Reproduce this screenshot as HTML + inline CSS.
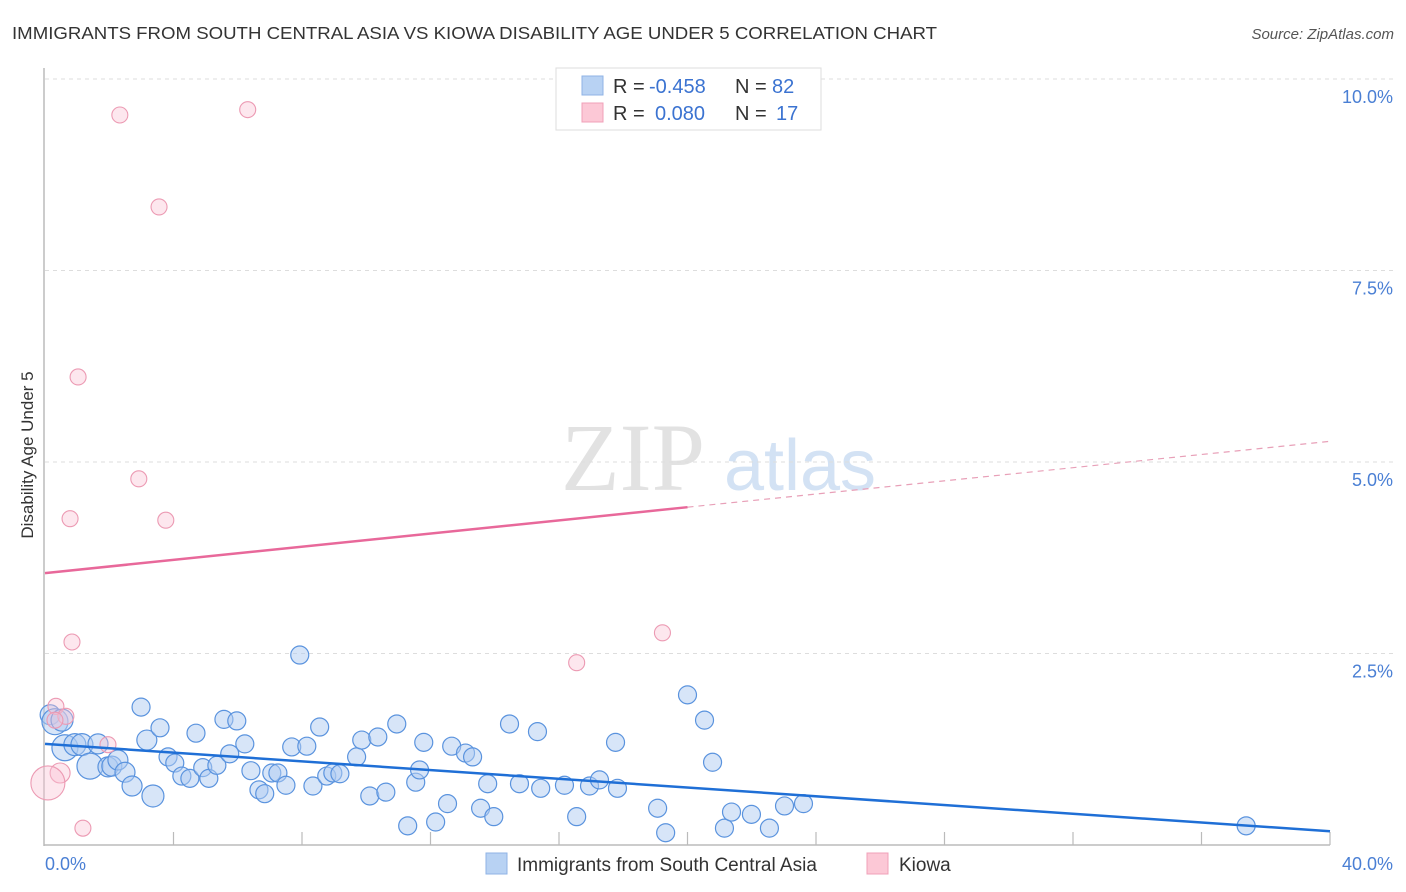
<!DOCTYPE html>
<html><head><meta charset="utf-8"><style>
body{margin:0;background:#fff;font-family:"Liberation Sans",sans-serif;}
svg{display:block}
</style></head><body>
<svg id="chart" width="1406" height="892" xmlns="http://www.w3.org/2000/svg">
<text x="12" y="39" font-size="17.5" fill="#333" textLength="925" lengthAdjust="spacingAndGlyphs">IMMIGRANTS FROM SOUTH CENTRAL ASIA VS KIOWA DISABILITY AGE UNDER 5 CORRELATION CHART</text>
<text x="1394" y="39" font-size="15" fill="#555" text-anchor="end" font-style="italic">Source: ZipAtlas.com</text>
<g>
<text x="633" y="490" font-size="96" fill="#e2e2e2" font-family="Liberation Serif,serif" text-anchor="middle">ZIP</text>
<text x="800" y="490" font-size="72" fill="#d3e2f4" text-anchor="middle">atlas</text>
</g>
<g id="grid"></g>
<g id="axes"></g>
<g id="pts"></g>
<g id="trend"></g>
<text transform="translate(33,455) rotate(-90)" font-size="17" fill="#333" text-anchor="middle">Disability Age Under 5</text>
<text x="45" y="870" font-size="18" fill="#4a7fd4">0.0%</text>
<text x="1393" y="870" font-size="18" fill="#4a7fd4" text-anchor="end">40.0%</text>
<g font-size="20">
<rect x="556" y="68" width="265" height="62" fill="#fff" stroke="#ddd"/>
<rect x="582" y="76" width="21" height="19" fill="#b8d2f3" stroke="#8fb3e6"/>
<rect x="582" y="103" width="21" height="19" fill="#fcc8d6" stroke="#f0a0b8"/>
<text x="613" y="93" fill="#333">R =</text>
<text x="649" y="93" fill="#3b73d1">-0.458</text>
<text x="735" y="93" fill="#333">N =</text>
<text x="772" y="93" fill="#3b73d1">82</text>
<text x="613" y="120" fill="#333">R =</text>
<text x="655" y="120" fill="#3b73d1">0.080</text>
<text x="735" y="120" fill="#333">N =</text>
<text x="776" y="120" fill="#3b73d1">17</text>
</g>
<g>
<rect x="486" y="853" width="21" height="21" fill="#b8d2f3" stroke="#8fb3e6"/>
<text x="517" y="871" font-size="19" fill="#333">Immigrants from South Central Asia</text>
<rect x="867" y="853" width="21" height="21" fill="#fcc8d6" stroke="#f0a0b8"/>
<text x="899" y="871" font-size="19" fill="#333">Kiowa</text>
</g>
</svg>
<script>
const yTicks=[2.5,5.0,7.5,10.0];
const yTickLabels=["2.5%","5.0%","7.5%","10.0%"];
const xTicks=[4,8,12,16,20,24,28,32,36,40];
const blueX=[0.16,0.31,0.53,0.62,0.93,1.15,1.40,1.65,1.96,2.08,2.27,2.49,2.71,2.99,3.17,3.36,3.58,3.83,4.04,4.26,4.51,4.70,4.91,5.10,5.35,5.57,5.75,5.97,6.22,6.41,6.66,6.84,7.06,7.25,7.50,7.68,7.93,8.15,8.34,8.55,8.77,8.96,9.18,9.70,9.86,10.11,10.36,10.61,10.95,11.29,11.54,11.66,11.79,12.16,12.53,12.66,13.09,13.31,13.56,13.78,13.97,14.46,14.77,15.33,15.43,16.17,16.55,16.95,17.26,17.76,17.82,19.07,19.32,20.00,20.53,20.78,21.15,21.37,21.99,22.55,23.02,23.61,37.39];
const blueY=[1.70,1.61,1.63,1.27,1.31,1.31,1.03,1.32,1.02,1.03,1.11,0.95,0.77,1.80,1.37,0.64,1.53,1.15,1.07,0.90,0.87,1.46,1.01,0.87,1.04,1.64,1.19,1.62,1.32,0.97,0.72,0.67,0.94,0.94,0.78,1.28,2.48,1.29,0.77,1.54,0.90,0.94,0.93,1.15,1.37,0.64,1.41,0.69,1.58,0.25,0.82,0.98,1.34,0.30,0.54,1.29,1.20,1.15,0.48,0.80,0.37,1.58,0.80,1.48,0.74,0.78,0.37,0.77,0.85,1.34,0.74,0.48,0.16,1.96,1.63,1.08,0.22,0.43,0.40,0.22,0.51,0.54,0.25];
const blueSize=[10,13,11,13,11,11,13,10,10,10,10,10,10,9,10,11];
const pinkX=[2.33,6.31,3.55,1.03,2.92,0.78,3.76,0.84,19.22,16.55,0.34,0.65,1.96,0.47,0.09,1.18,0.31];
const pinkY=[9.53,9.60,8.33,6.11,4.78,4.26,4.24,2.65,2.77,2.38,1.81,1.68,1.31,0.94,0.81,0.22,1.63];
const pinkSize=[8,8,8,8,8,8,8,8,8,8,8,8,8,10,17,8,8];
const blueTrend=[1.32,0.18];
const pinkTrend=[3.55,5.27];
const pinkSolidEnd=20;
const NS="http://www.w3.org/2000/svg";
const X0=45,X1=1330,Y0=845,YPX=76.6;
function sx(v){return X0+(X1-X0)*v/40;}
function sy(v){return Y0-v*YPX;}
function mk(tag,attrs,parent){const e=document.createElementNS(NS,tag);for(const k in attrs)e.setAttribute(k,attrs[k]);document.getElementById(parent).appendChild(e);return e;}
yTicks.forEach((t,i)=>{
 const l=mk('line',{x1:45,x2:1393,y1:sy(t),y2:sy(t),stroke:'#ddd','stroke-dasharray':'4,4'},'grid');
 
 
 const tx=mk('text',{x:1393,y:sy(t)+24,'font-size':18,fill:'#4a7fd4','text-anchor':'end'},'grid');
 tx.textContent=yTickLabels[i];
 
 
});
let a=mk('line',{x1:44,x2:44,y1:68,y2:846,stroke:'#bbb','stroke-width':1.5},'axes');


a=mk('line',{x1:44,x2:1330,y1:845,y2:845,stroke:'#bbb','stroke-width':1.5},'axes');


xTicks.forEach(t=>{
 const l=mk('line',{x1:sx(t),x2:sx(t),y1:832,y2:845,stroke:'#bbb','stroke-width':1.2},'axes');
 
 
});
blueX.forEach((v,i)=>{
 const c=mk('circle',{cx:sx(v),cy:sy(blueY[i]),r:blueSize[i]||9,fill:'rgba(175,204,242,0.5)',stroke:'#5a93de','stroke-width':1.2},'pts');
 
 
});
pinkX.forEach((v,i)=>{
 const c=mk('circle',{cx:sx(v),cy:sy(pinkY[i]),r:pinkSize[i],fill:'rgba(250,195,212,0.4)',stroke:'#ec9ab3','stroke-width':1.1},'pts');
 
 
});
let t=mk('line',{x1:sx(0),y1:sy(blueTrend[0]),x2:sx(40),y2:sy(blueTrend[1]),stroke:'#1f6fd6','stroke-width':2.5},'trend');


const pm=pinkTrend[0]+(pinkTrend[1]-pinkTrend[0])*pinkSolidEnd/40;
t=mk('line',{x1:sx(0),y1:sy(pinkTrend[0]),x2:sx(pinkSolidEnd),y2:sy(pm),stroke:'#e8689a','stroke-width':2.5},'trend');


t=mk('line',{x1:sx(pinkSolidEnd),y1:sy(pm),x2:sx(40),y2:sy(pinkTrend[1]),stroke:'#e8a0b8','stroke-width':1.2,'stroke-dasharray':'6,5'},'trend');


</script>
</body></html>
